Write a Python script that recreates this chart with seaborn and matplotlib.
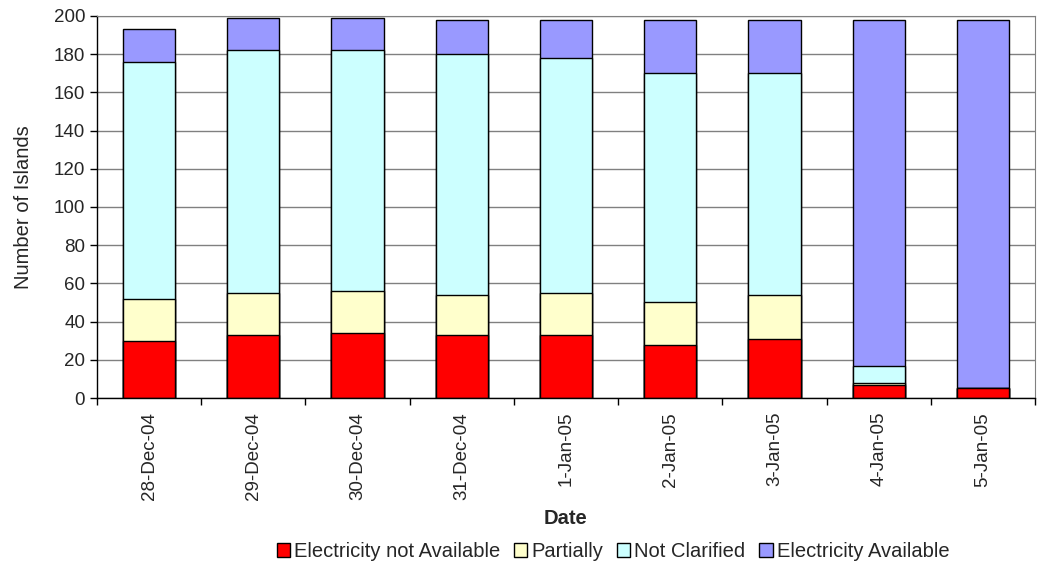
import numpy as np
import pandas as pd
import matplotlib.pyplot as plt
import seaborn as sns

dates = ["28-Dec-04", "29-Dec-04", "30-Dec-04", "31-Dec-04", "1-Jan-05",
         "2-Jan-05", "3-Jan-05", "4-Jan-05", "5-Jan-05"]
not_available = [30, 33, 34, 33, 33, 28, 31, 7, 5]
partially = [22, 22, 22, 21, 22, 22, 23, 1, 0]
not_clarified = [124, 127, 126, 126, 123, 120, 116, 9, 0]
available = [17, 17, 17, 18, 20, 28, 28, 181, 193]

series = ["Electricity not Available", "Partially", "Not Clarified", "Electricity Available"]
colors = ["#FF0000", "#FFFFCC", "#CCFFFF", "#9999FF"]

df = pd.DataFrame({"date": dates, series[0]: not_available, series[1]: partially,
                   series[2]: not_clarified, series[3]: available})
cum = df[series].cumsum(axis=1)

sns.set_style("white")
plt.rcParams["font.family"] = ["Liberation Sans", "DejaVu Sans"]

fig = plt.figure(figsize=(10.62, 5.67), dpi=100)
ax = fig.add_axes([0.0913, 0.298, 0.8833, 0.674])

# stacked bars: draw cumulative totals from the top series down
for name, col in reversed(list(zip(series, colors))):
    sns.barplot(x=df["date"], y=cum[name], color=col, width=0.5, edgecolor="black",
                linewidth=1, saturation=1, ax=ax, label=name)

ax.set_ylim(0, 200)
ax.set_xlim(-0.5, len(dates) - 0.5)
ax.set_yticks(range(0, 201, 20))
ax.yaxis.grid(True, color="#808080", linewidth=1)
ax.set_axisbelow(True)

ax.set_xticks(range(len(dates)))
ax.set_xticklabels(dates, rotation=90, fontsize=13.5)
ax.set_xticks(np.arange(-0.5, len(dates), 1), minor=True)
ax.tick_params(axis="x", which="major", length=0, pad=10)
ax.tick_params(axis="x", which="minor", length=5, width=1, color="black", direction="out", bottom=True)
ax.tick_params(axis="y", length=5, width=1, color="black", direction="out", left=True, labelsize=13.5)

for side in ["top", "right"]:
    ax.spines[side].set_color("#808080")
for side in ["left", "bottom"]:
    ax.spines[side].set_color("black")
    ax.spines[side].set_linewidth(1)

ax.set_xlabel("Date", fontsize=14.5, fontweight="bold")
ax.xaxis.set_label_coords(0.5, -0.29)
ax.set_ylabel("Number of Islands", fontsize=14.5)
ax.yaxis.set_label_coords(-0.068, 0.5)

handles, labels = ax.get_legend_handles_labels()
order = [labels.index(s) for s in series]
ax.legend([handles[i] for i in order], series, loc="center", bbox_to_anchor=(0.55, -0.402),
          ncol=4, frameon=False, fontsize=14.5, handlelength=0.65, handleheight=0.65,
          handletextpad=0.2, columnspacing=0.7)

plt.savefig("out.png", dpi=100)
plt.close()
